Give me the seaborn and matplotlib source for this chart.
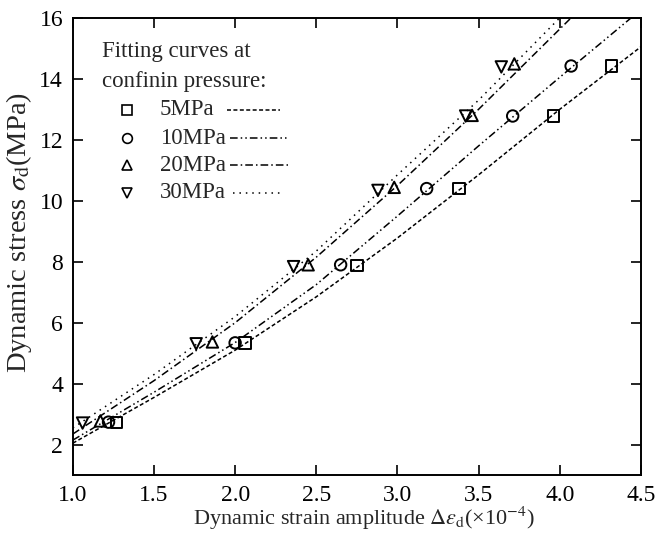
import numpy as np
import pandas as pd
import matplotlib
matplotlib.use("Agg")
import matplotlib.pyplot as plt
import seaborn as sns

# ---- data ----
series = ["5MPa", "10MPa", "20MPa", "30MPa"]
marker_map = {"5MPa": "s", "10MPa": "o", "20MPa": "^", "30MPa": "v"}

strain_5 = [1.27, 2.06, 2.75, 3.38, 3.96, 4.32]
strain_10 = [1.22, 2.00, 2.65, 3.18, 3.71, 4.07]
strain_20 = [1.17, 1.86, 2.45, 2.98, 3.46, 3.72]
strain_30 = [1.06, 1.76, 2.36, 2.88, 3.42, 3.64]
stress_5 = [2.72, 5.33, 7.88, 10.40, 12.78, 14.42]
stress_10 = [2.74, 5.34, 7.90, 10.40, 12.78, 14.42]
stress_20 = [2.78, 5.37, 7.90, 10.44, 12.80, 14.49]
stress_30 = [2.71, 5.31, 7.84, 10.34, 12.78, 14.39]

# fitting curves
fit_x_5 = [1.0, 1.5, 2.0, 2.5, 3.0, 3.5, 4.0, 4.5]
fit_y_5 = [2.05, 3.55, 5.10, 6.85, 8.78, 10.85, 13.00, 15.05]
fit_x_10 = [1.0, 1.5, 2.0, 2.5, 3.0, 3.5, 4.0, 4.44]
fit_y_10 = [2.15, 3.72, 5.35, 7.25, 9.50, 11.80, 14.05, 16.0]
fit_x_20 = [1.0, 1.5, 2.0, 2.5, 3.0, 3.5, 4.07]
fit_y_20 = [2.35, 4.10, 6.00, 8.15, 10.50, 13.00, 16.0]
fit_x_30 = [1.0, 1.5, 2.0, 2.5, 3.0, 3.5, 4.0]
fit_y_30 = [2.55, 4.30, 6.20, 8.35, 10.85, 13.30, 16.0]

x_ticks = [1.0, 1.5, 2.0, 2.5, 3.0, 3.5, 4.0, 4.5]
y_ticks = [2, 4, 6, 8, 10, 12, 14, 16]

pts = pd.DataFrame({
    "strain": strain_5 + strain_10 + strain_20 + strain_30,
    "stress": stress_5 + stress_10 + stress_20 + stress_30,
    "p": sum([[s] * 6 for s in series], []),
})
fits = pd.DataFrame({
    "strain": fit_x_5 + fit_x_10 + fit_x_20 + fit_x_30,
    "stress": fit_y_5 + fit_y_10 + fit_y_20 + fit_y_30,
    "p": ["5MPa"] * len(fit_x_5) + ["10MPa"] * len(fit_x_10)
         + ["20MPa"] * len(fit_x_20) + ["30MPa"] * len(fit_x_30),
})

dash_map = {
    "5MPa": (2.6, 1.6),
    "10MPa": (5, 2, 1, 2, 1, 2),
    "20MPa": (5, 2, 1, 2),
    "30MPa": (1, 3.2),
}

sns.set_theme(style="ticks")
plt.rcParams["font.family"] = ["Liberation Serif", "DejaVu Serif"]
plt.rcParams["mathtext.fontset"] = "stix"

fig = plt.figure(figsize=(6.56, 5.4), dpi=100)
ax = fig.add_axes([0.111, 0.120, 0.866, 0.847])

sns.lineplot(data=fits, x="strain", y="stress", hue="p", style="p",
             palette={s: "black" for s in series}, dashes=dash_map,
             estimator=None, sort=True, linewidth=1.1, legend=False, ax=ax)
sns.scatterplot(data=pts, x="strain", y="stress", style="p", markers=marker_map,
                s=68, facecolor="none", edgecolor="black", linewidth=1.4,
                legend=False, ax=ax, zorder=3)

ax.set_xlim(1.0, 4.5)
ax.set_ylim(1.0, 16.0)
ax.set_xticks(x_ticks)
ax.set_xticklabels([f"{v:.1f}" for v in x_ticks])
ax.set_yticks(y_ticks)
ax.tick_params(direction="in", length=7, width=1.2, top=True, right=True,
               labelsize=17, pad=7, colors="black")
for sp in ax.spines.values():
    sp.set_visible(True)
    sp.set_linewidth(1.4)
    sp.set_color("black")

ax.set_xlabel(r"Dynamic strain amplitude $\Delta\varepsilon_{\rm d}$(×10$^{-4}$)",
              fontsize=16, labelpad=1)
ax.xaxis.set_label_coords(0.512, -0.065)
ax.set_ylabel(r"Dynamic stress $\sigma_{\rm d}$(MPa)", fontsize=20.5)
ax.yaxis.set_label_coords(-0.068, 0.53)

# ---- custom legend: marker, label, line sample ----
tr = ax.transAxes
ax.text(0.051, 0.926, "Fitting curves at", transform=tr, fontsize=16.5,
        va="center", ha="left")
ax.text(0.051, 0.860, "confinin pressure:", transform=tr, fontsize=16.5,
        va="center", ha="left")
leg_y = [0.799, 0.737, 0.678, 0.617]
leg_line = [(0.271, 0.364), (0.276, 0.379), (0.276, 0.379), (0.282, 0.368)]
for s, yy, (l0, l1) in zip(series, leg_y, leg_line):
    ax.plot([0.095], [yy], marker=marker_map[s], ms=7, mfc="none", mec="black",
            mew=1.2, transform=tr, clip_on=False)
    ax.text(0.153, yy, s, transform=tr, fontsize=16.5, va="center", ha="left")
    ax.plot([l0, l1], [yy, yy], color="black", lw=1.1, transform=tr,
            dashes=dash_map[s])

fig.savefig("out.png", dpi=100, facecolor="white")
